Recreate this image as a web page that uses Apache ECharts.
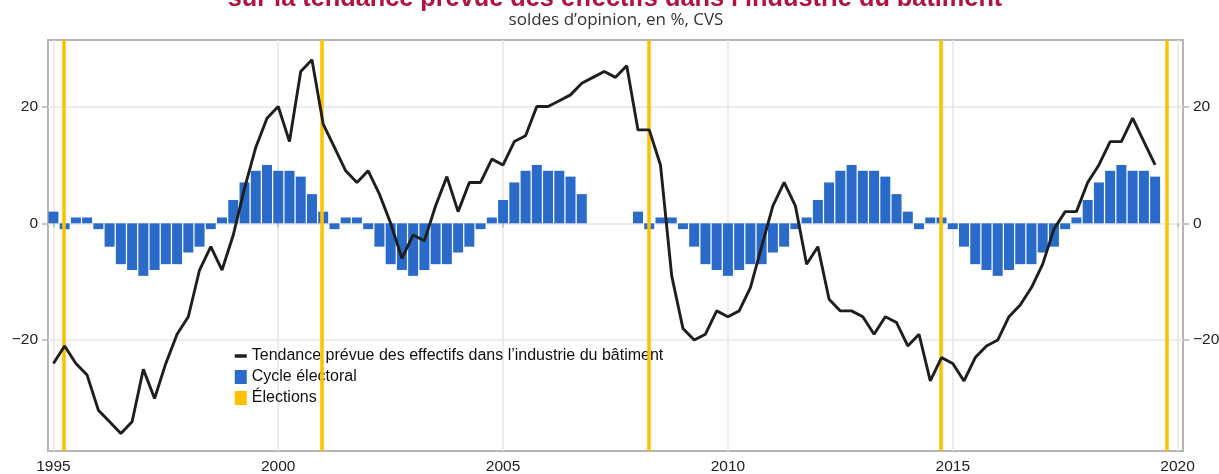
<!DOCTYPE html>
<html><head><meta charset="utf-8">
<script src="https://cdn.jsdelivr.net/npm/echarts@6/dist/echarts.min.js"></script>
<style>html,body{margin:0;padding:0;background:#fff}#c{width:1219px;height:474px}</style>
</head><body><div id="c"></div>
<script>
const titleText = "sur la tendance prévue des effectifs dans l’industrie du bâtiment";
const subtitleText = "soldes d’opinion, en %, CVS";
const lineName = "Tendance prévue des effectifs dans l’industrie du bâtiment";
const barName = "Cycle électoral";
const elecName = "Élections";

// quarterly observations starting 1995 T1
const startYear = 1995;
const tendance = [
  -24,-21,-24,-26,-32,-34,-36,-34,-25,-30,
  -24,-19,-16,-8,-4,-8,-2,6,13,18,
  20,14,26,28,17,13,9,7,9,5,
  0,-6,-2,-3,3,8,2,7,7,11,
  10,14,15,20,20,21,22,24,25,26,
  25,27,16,16,10,-9,-18,-20,-19,-15,
  -16,-15,-11,-4,3,7,3,-7,-4,-13,
  -15,-15,-16,-19,-16,-17,-21,-19,-27,-23,
  -24,-27,-23,-21,-20,-16,-14,-11,-7,-1,
  2,2,7,10,14,14,18,14,10
];
const cycle = [
  2,-1,1,1,-1,-4,-7,-8,-9,-8,-7,-7,-5,-4,-1,1,4,7,9,10,9,9,8,5,
  2,-1,1,1,-1,-4,-7,-8,-9,-8,-7,-7,-5,-4,-1,1,4,7,9,10,9,9,8,5,
  null,null,null,null,
  2,-1,1,1,-1,-4,-7,-8,-9,-8,-7,-7,-5,-4,-1,1,4,7,9,10,9,9,8,5,
  2,-1,1,1,-1,-4,-7,-8,-9,-8,-7,-7,-5,-4,-1,1,4,7,9,10,9,9,8
];
// election dates in decimal years
const elections = [1995.22, 2000.97, 2008.23, 2014.74, 2019.75];
const xTicks = [1995, 2000, 2005, 2010, 2015, 2020];
const yTicks = [-20, 0, 20];

const xOf = i => startYear + i / 4;
const lineData = tendance.map((v, i) => [xOf(i), v]);
const barData = cycle.map((v, i) => [xOf(i), v]).filter(d => d[1] !== null);

const FONT = '"Liberation Sans", Arial, sans-serif';
const gridCol = '#e6e6e6';
const borderCol = '#b5b5b5';
const fmtY = v => String(v).replace('-', '\u2212');

const yAxisBase = {
  type: 'value', min: -39, max: 31.4,
  axisLine: { show: false },
  axisTick: { show: true, customValues: yTicks, length: 6, lineStyle: { color: borderCol, width: 1.5 } },
  axisLabel: { customValues: yTicks, formatter: fmtY, margin: 10, fontSize: 15.5, color: '#222', fontFamily: FONT }
};

const option = {
  animation: false,
  backgroundColor: '#fff',
  graphic: [
    { type: 'text', x: 615, y: -0.5, silent: true,
      style: { text: titleText, align: 'center', verticalAlign: 'middle', font: 'bold 25.3px "Liberation Sans", Arial, sans-serif', fill: '#b2133d' } },
    { type: 'text', x: 616, y: 20.5, silent: true,
      style: { text: subtitleText, align: 'center', verticalAlign: 'middle', font: '17px "Open Sans", sans-serif', fill: '#333' } }
  ],
  legend: {
    orient: 'vertical', left: 233, top: 348, padding: 0, itemGap: 5,
    itemWidth: 12, itemHeight: 14, selectedMode: false,
    textStyle: { fontSize: 16, lineHeight: 14, color: '#111', fontFamily: FONT },
    data: [
      { name: lineName, itemStyle: { color: 'rgba(0,0,0,0)', borderWidth: 0 }, lineStyle: { width: 3.5, color: '#1e1e1e' } },
      { name: barName, icon: 'rect' },
      { name: elecName, icon: 'rect' }
    ]
  },
  grid: { left: 48, right: 36, top: 40, bottom: 23, show: true, borderColor: borderCol, borderWidth: 2, containLabel: false, outerBoundsMode: 'none' },
  xAxis: {
    type: 'value', min: 1994.88, max: 2020.12,
    axisLine: { show: false },
    axisTick: { show: true, customValues: xTicks, length: 4, lineStyle: { color: borderCol, width: 1.5 } },
    axisLabel: { customValues: xTicks, formatter: v => String(v), margin: 8, fontSize: 15.5, color: '#222', fontFamily: FONT },
    splitLine: { show: true, lineStyle: { color: gridCol, width: 1.5 } }
  },
  yAxis: [
    Object.assign({}, yAxisBase, { position: 'left', splitLine: { show: true, lineStyle: { color: gridCol, width: 1.5 } } }),
    Object.assign({}, yAxisBase, { position: 'right', splitLine: { show: false } })
  ],
  series: [
    { name: barName, type: 'bar', data: barData, barWidth: 10, color: '#2a6bc9', itemStyle: { color: '#2a6bc9' }, z: 2, silent: true },
    { name: elecName, type: 'line', data: [], color: '#ffc000', itemStyle: { color: '#ffc000' }, z: 3, silent: true,
      markLine: { silent: true, symbol: ['none', 'none'], label: { show: false },
        lineStyle: { color: '#ffc000', width: 3.5, type: 'solid' },
        emphasis: { disabled: true },
        data: elections.map(x => ({ xAxis: x })) } },
    { name: lineName, type: 'line', data: lineData, symbol: 'none', color: '#1e1e1e',
      lineStyle: { color: '#1e1e1e', width: 2.9 }, itemStyle: { color: '#1e1e1e' }, z: 5, silent: true }
  ]
};
const chart = echarts.init(document.getElementById('c'), null, { renderer: 'canvas' });
chart.setOption(option);
</script></body></html>
